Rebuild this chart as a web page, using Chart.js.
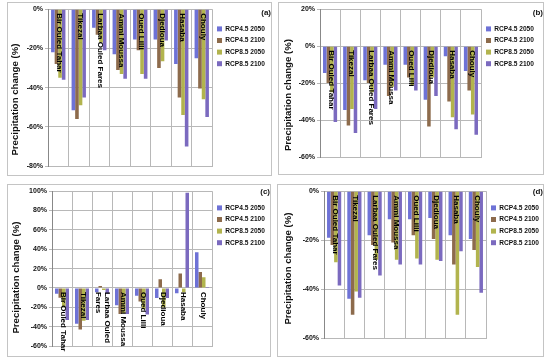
<!DOCTYPE html>
<html>
<head>
<meta charset="utf-8">
<script src="https://cdn.jsdelivr.net/npm/chart.js@4.4.0/dist/chart.umd.min.js"></script>
<style>
  html, body { margin: 0; padding: 0; background: #fff; }
  body { width: 550px; height: 359px; position: relative; overflow: hidden; }
  .panel { position: absolute; border: 1px solid #c4c4c4; background: #fff; box-sizing: border-box; }
  .panel canvas { display: block; }
</style>
</head>
<body>
<div class="panel" style="left:7px;top:2px;width:265px;height:174px"><canvas id="chartA"></canvas></div>
<div class="panel" style="left:278px;top:2px;width:266px;height:173px"><canvas id="chartB"></canvas></div>
<div class="panel" style="left:7px;top:184px;width:264px;height:173px"><canvas id="chartC"></canvas></div>
<div class="panel" style="left:277px;top:184px;width:267px;height:173px"><canvas id="chartD"></canvas></div>

<script>
// stations (categories)
const stations = ['Bir Ouled Tahar', 'Tikezal', 'Larbaa Ouled Fares', 'Ammi Moussa',
                  'Oued Lilli', 'Djedioua', 'Hasaba', 'Chouly'];
const scenarios = ['RCP4.5 2050', 'RCP4.5 2100', 'RCP8.5 2050', 'RCP8.5 2100'];
const scenarioColors = ['#6e72d6', '#8d6b4c', '#b2b44e', '#7b6abf'];

// panel (a) - precipitation change (%)
const a45_2050 = [-22, -51.5, -9.5, -23, -15.5, -15.5, -28, -25];
const a45_2100 = [-28, -56, -13, -31, -21, -30, -45, -40.5];
const a85_2050 = [-35, -49, -17, -33, -33, -26.5, -54, -46];
const a85_2100 = [-36, -45, -21, -35.5, -35.5, -16, -70, -55];

// panel (b)
const b45_2050 = [-14.5, -34.5, -18.5, -10, -10, -29, -5.5, -13.5];
const b45_2100 = [-20, -43, -20, -27, -17, -43.5, -30, -24];
const b85_2050 = [-25, -34, -25, -22, -21, -17, -38.5, -37];
const b85_2100 = [-41, -47, -34, -24, -24, -27, -45, -48];

// panel (c)
const c45_2050 = [-6, -37, -4.5, -18, -8, -10.5, -5.5, 37];
const c45_2100 = [-10, -43, 2, -27, -14, 9, 15, 16.5];
const c85_2050 = [-20, -34, -2, -26, -22, -20, -4.5, 11];
const c85_2100 = [-33, -33, -6, -27, -27.5, -10.5, 98.5, 1];

// panel (d)
const d45_2050 = [-19, -44, -18, -11.5, -11.5, -11, -18, -19.5];
const d45_2100 = [-22, -50.5, -22, -21, -18, -19.5, -30, -24];
const d85_2050 = [-29, -41, -28, -28, -27.5, -28, -50.5, -31];
const d85_2100 = [-38.5, -43.5, -34.5, -30, -30, -28.5, -24.5, -41.5];

const FONT = '"Liberation Sans", Arial, sans-serif';
const Y_TITLE = 'Precipitation change (%)';
Chart.defaults.font.family = FONT;
Chart.defaults.color = '#111';

// station names written vertically inside the plot, just under the 0% line,
// plus the y axis title (Excel placed it a bit below the plot centre)
const panelText = {
    id: 'panelText',
    afterDatasetsDraw(chart, args, opts) {
        const { ctx, chartArea, scales: { x, y } } = chart;
        const y0 = y.getPixelForValue(0) + 4;
        ctx.save();
        ctx.font = 'bold 8px ' + FONT;
        ctx.fillStyle = '#000';
        ctx.textAlign = 'left';
        ctx.textBaseline = 'middle';
        chart.data.labels.forEach(function(lab, i) {
            const lines = Array.isArray(lab) ? lab : [lab];
            ctx.save();
            ctx.translate(x.getPixelForValue(i) + 1, y0);
            ctx.rotate(Math.PI / 2);
            lines.forEach(function(t, k) {
                ctx.fillText(t, 0, (k - (lines.length - 1) / 2) * 9);
            });
            ctx.restore();
        });

        // axis title
        ctx.save();
        ctx.font = 'bold 9.6px ' + FONT;
        ctx.fillStyle = '#111';
        ctx.textAlign = 'center';
        ctx.translate(opts.titleX, (chartArea.top + chartArea.bottom) / 2 + opts.titleShift);
        ctx.rotate(-Math.PI / 2);
        ctx.fillText(Y_TITLE, 0, 0);
        ctx.restore();
        ctx.restore();
    }
};

function makeChart(id, tag, sets, min, max, opt) {
    const canvas = document.getElementById(id);
    const box = canvas.parentElement;
    canvas.width = box.clientWidth;
    canvas.height = box.clientHeight;

    const labels = opt.wrap
        ? stations.map(s => s === 'Larbaa Ouled Fares' ? ['Larbaa Ouled', 'Fares'] : s)
        : stations;

    new Chart(canvas.getContext('2d'), {
        type: 'bar',
        data: {
            labels: labels,
            datasets: sets.map(function(d, i) {
                return {
                    label: scenarios[i],
                    data: d,
                    backgroundColor: scenarioColors[i],
                    borderWidth: 0,
                    categoryPercentage: 0.7,
                    barPercentage: 1
                };
            })
        },
        options: {
            responsive: false,
            animation: false,
            layout: { padding: { left: 0, right: 0, top: opt.padT, bottom: opt.padB } },
            plugins: {
                tooltip: { enabled: false },
                panelText: { titleX: opt.titleX, titleShift: opt.titleShift },
                legend: {
                    position: 'right',
                    align: 'start',
                    maxWidth: opt.legW,
                    title: { display: true, text: tag, position: 'end',
                             font: { size: 8, weight: 'bold' }, padding: { top: 0, bottom: 2 } },
                    labels: {
                        boxWidth: 5,
                        boxHeight: 5,
                        padding: 5,
                        color: '#111',
                        font: { size: 6.6, weight: 'bold' }
                    }
                }
            },
            scales: {
                x: {
                    ticks: { display: false },
                    grid: { color: '#b8b8b8', drawTicks: false },
                    border: { color: '#b8b8b8' }
                },
                y: {
                    min: min,
                    max: max,
                    afterFit: function(scale) { scale.width = opt.yW; },
                    ticks: {
                        stepSize: 20,
                        padding: 2,
                        color: '#111',
                        font: { size: 7, weight: 'bold' },
                        callback: v => v + '%'
                    },
                    grid: { color: '#b8b8b8', tickLength: 3 },
                    border: { color: '#888' }
                }
            }
        },
        plugins: [panelText]
    });
}

makeChart('chartA', '(a)', [a45_2050, a45_2100, a85_2050, a85_2100], -80, 0,
          { yW: 40, legW: 59, padT: 6, padB: 9, titleX: 7, titleShift: 12 });
makeChart('chartB', '(b)', [b45_2050, b45_2100, b85_2050, b85_2100], -60, 20,
          { yW: 41, legW: 62, padT: 6, padB: 17, titleX: 9, titleShift: 12 });
makeChart('chartC', '(c)', [c45_2050, c45_2100, c85_2050, c85_2100], -60, 100,
          { yW: 44, legW: 58, padT: 3, padB: 10, wrap: true, titleX: 8, titleShift: 9 });
makeChart('chartD', '(d)', [d45_2050, d45_2100, d85_2050, d85_2100], -60, 0,
          { yW: 46, legW: 57, padT: 3, padB: 18, titleX: 10, titleShift: 4 });
</script>
</body>
</html>
